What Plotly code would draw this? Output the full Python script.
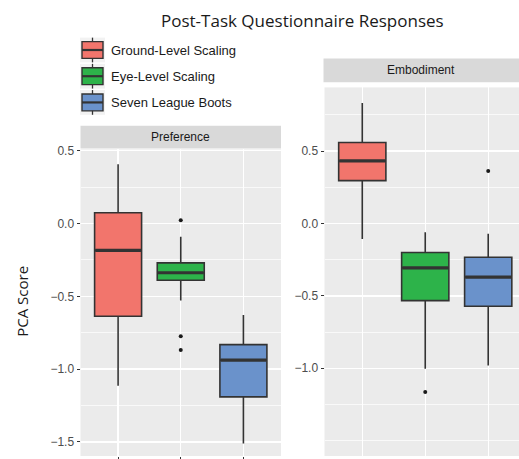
import plotly.graph_objects as go

W, H = 519, 459
OFF = 0  # page body margin is removed via post_script

groups = ["Ground-Level Scaling", "Eye-Level Scaling", "Seven League Boots"]
colors = ["#F2756C", "#2DB34A", "#6A92CB"]
positions = [1, 2, 3]

# Preference panel (PCA score)
pref_lo = [-1.115, -0.528, -1.511]
pref_q1 = [-0.637, -0.390, -1.191]
pref_med = [-0.184, -0.338, -0.938]
pref_q3 = [0.074, -0.270, -0.832]
pref_hi = [0.407, -0.091, -0.628]
pref_out_x = [2, 2, 2]
pref_out_y = [0.022, -0.775, -0.868]

# Embodiment panel (PCA score)
emb_lo = [-0.107, -1.004, -0.981]
emb_q1 = [0.296, -0.533, -0.572]
emb_med = [0.432, -0.306, -0.370]
emb_q3 = [0.559, -0.200, -0.233]
emb_hi = [0.832, -0.061, -0.070]
emb_out_x = [2, 3]
emb_out_y = [-1.163, 0.362]

BOXW = 0.75
EDGE = "#333333"

fig = go.Figure()

def add_panel(lo, q1, med, q3, hi, ox, oy, xa, ya):
    for i, g in enumerate(groups):
        fig.add_trace(go.Box(
            x=[positions[i]], q1=[q1[i]], median=[med[i]], q3=[q3[i]],
            lowerfence=[lo[i]], upperfence=[hi[i]],
            width=BOXW, whiskerwidth=0, fillcolor=colors[i],
            line=dict(color=EDGE, width=1.6), boxpoints=False,
            name=g, showlegend=False, xaxis=xa, yaxis=ya, hoverinfo="skip"))
        # thicker median line (ggplot style)
        fig.add_trace(go.Scatter(
            x=[positions[i] - BOXW / 2 + 0.01, positions[i] + BOXW / 2 - 0.01],
            y=[med[i], med[i]], mode="lines",
            line=dict(color=EDGE, width=3.2), showlegend=False,
            xaxis=xa, yaxis=ya, hoverinfo="skip"))
    fig.add_trace(go.Scatter(
        x=ox, y=oy, mode="markers",
        marker=dict(color="#1A1A1A", size=4), showlegend=False,
        xaxis=xa, yaxis=ya, hoverinfo="skip"))

add_panel(pref_lo, pref_q1, pref_med, pref_q3, pref_hi, pref_out_x, pref_out_y, "x", "y")
add_panel(emb_lo, emb_q1, emb_med, emb_q3, emb_hi, emb_out_x, emb_out_y, "x2", "y2")

def px_x(v):
    return (v - OFF) / W

def px_y(v):
    return 1 - (v - OFF) / H

tickfont = dict(family="Liberation Sans, Arial", size=12, color="#4D4D4D")
common_y = dict(showline=False, zeroline=False, ticks="outside", ticklen=3,
                tickcolor="#333333", tickwidth=1, tickfont=tickfont,
                gridcolor="white", gridwidth=1.4, tickformat=".1f")
common_x = dict(showline=False, zeroline=False, showticklabels=False,
                tickvals=positions, gridcolor="white", gridwidth=1.4,
                tickcolor="#333333", tickwidth=1)

fig.update_layout(
    width=W, height=H,
    margin=dict(l=0, r=0, t=0, b=0),
    paper_bgcolor="white", plot_bgcolor="#EBEBEB",
    hovermode=False,
    xaxis=dict(domain=[px_x(80.5), px_x(281)], range=[0.4, 3.6],
               ticks="outside", ticklen=3, anchor="y", **common_x),
    yaxis=dict(domain=[px_y(456), px_y(146)], range=[-1.597, 0.509],
               tickvals=[-1.5, -1.0, -0.5, 0.0, 0.5], anchor="x",
               minor=dict(tickvals=[-1.25, -0.75, -0.25, 0.25], showgrid=True,
                          gridcolor="white", gridwidth=0.7, ticks=""),
               **common_y),
    xaxis2=dict(domain=[px_x(324.5), px_x(519)], range=[0.4, 3.489],
                ticks="", anchor="y2", **common_x),
    yaxis2=dict(domain=[px_y(456), px_y(83.3)], range=[-1.606, 0.94],
                tickvals=[-1.0, -0.5, 0.0, 0.5], anchor="x2",
                minor=dict(tickvals=[-1.5, -1.25, -0.75, -0.25, 0.25, 0.75],
                           showgrid=True, gridcolor="white", gridwidth=0.7,
                           ticks=""),
                **common_y),
)

shapes = []
annotations = []

# strips
for (x0, x1, y0, y1, label) in [(80.5, 281, 122, 145, "Preference"),
                                 (323.5, 519, 54, 78, "Embodiment")]:
    shapes.append(dict(type="rect", xref="paper", yref="paper",
                       x0=px_x(x0), x1=px_x(x1), y0=px_y(y1), y1=px_y(y0),
                       fillcolor="#D9D9D9", line=dict(width=0), layer="below"))
    annotations.append(dict(xref="paper", yref="paper", x=px_x((x0 + x1) / 2),
                            y=px_y((y0 + y1) / 2), text=label, showarrow=False,
                            font=dict(family="Liberation Sans, Arial", size=12,
                                      color="#1A1A1A"),
                            xanchor="center", yanchor="middle"))

# legend (custom, ggplot style keys)
leg_centers = [45.5, 72.0, 98.5]
for i, g in enumerate(groups):
    cy = leg_centers[i]
    shapes.append(dict(type="rect", xref="paper", yref="paper",
                       x0=px_x(80), x1=px_x(105), y0=px_y(cy + 12.5), y1=px_y(cy - 12.5),
                       fillcolor="#F2F2F2", line=dict(width=0)))
    shapes.append(dict(type="line", xref="paper", yref="paper",
                       x0=px_x(92.5), x1=px_x(92.5), y0=px_y(cy + 12.5), y1=px_y(cy - 12.5),
                       line=dict(color=EDGE, width=1.3)))
    shapes.append(dict(type="rect", xref="paper", yref="paper",
                       x0=px_x(82), x1=px_x(103), y0=px_y(cy + 8.5), y1=px_y(cy - 8.5),
                       fillcolor=colors[i], line=dict(color=EDGE, width=1.4)))
    shapes.append(dict(type="line", xref="paper", yref="paper",
                       x0=px_x(82), x1=px_x(103), y0=px_y(cy), y1=px_y(cy),
                       line=dict(color=EDGE, width=2.2)))
    annotations.append(dict(xref="paper", yref="paper", x=px_x(109), y=px_y(cy),
                            text=g, showarrow=False, xanchor="left", yanchor="middle",
                            font=dict(family="Liberation Sans, Arial", size=13,
                                      color="#1A1A1A")))

# title and axis title
annotations.append(dict(xref="paper", yref="paper", x=px_x(302), y=px_y(16),
                        text="Post-Task Questionnaire Responses", showarrow=False,
                        xanchor="center", yanchor="middle",
                        font=dict(family="Open Sans", size=17, color="#1A1A1A")))
annotations.append(dict(xref="paper", yref="paper", x=px_x(22), y=px_y(300),
                        text="PCA Score", showarrow=False, textangle=-90,
                        xanchor="center", yanchor="middle",
                        font=dict(family="Open Sans", size=15, color="#1A1A1A")))

fig.update_layout(shapes=shapes, annotations=annotations)

fig.write_html("out.html",
               config={"displayModeBar": False, "staticPlot": True},
               post_script="document.body.style.margin='0';document.body.style.overflow='hidden';")
